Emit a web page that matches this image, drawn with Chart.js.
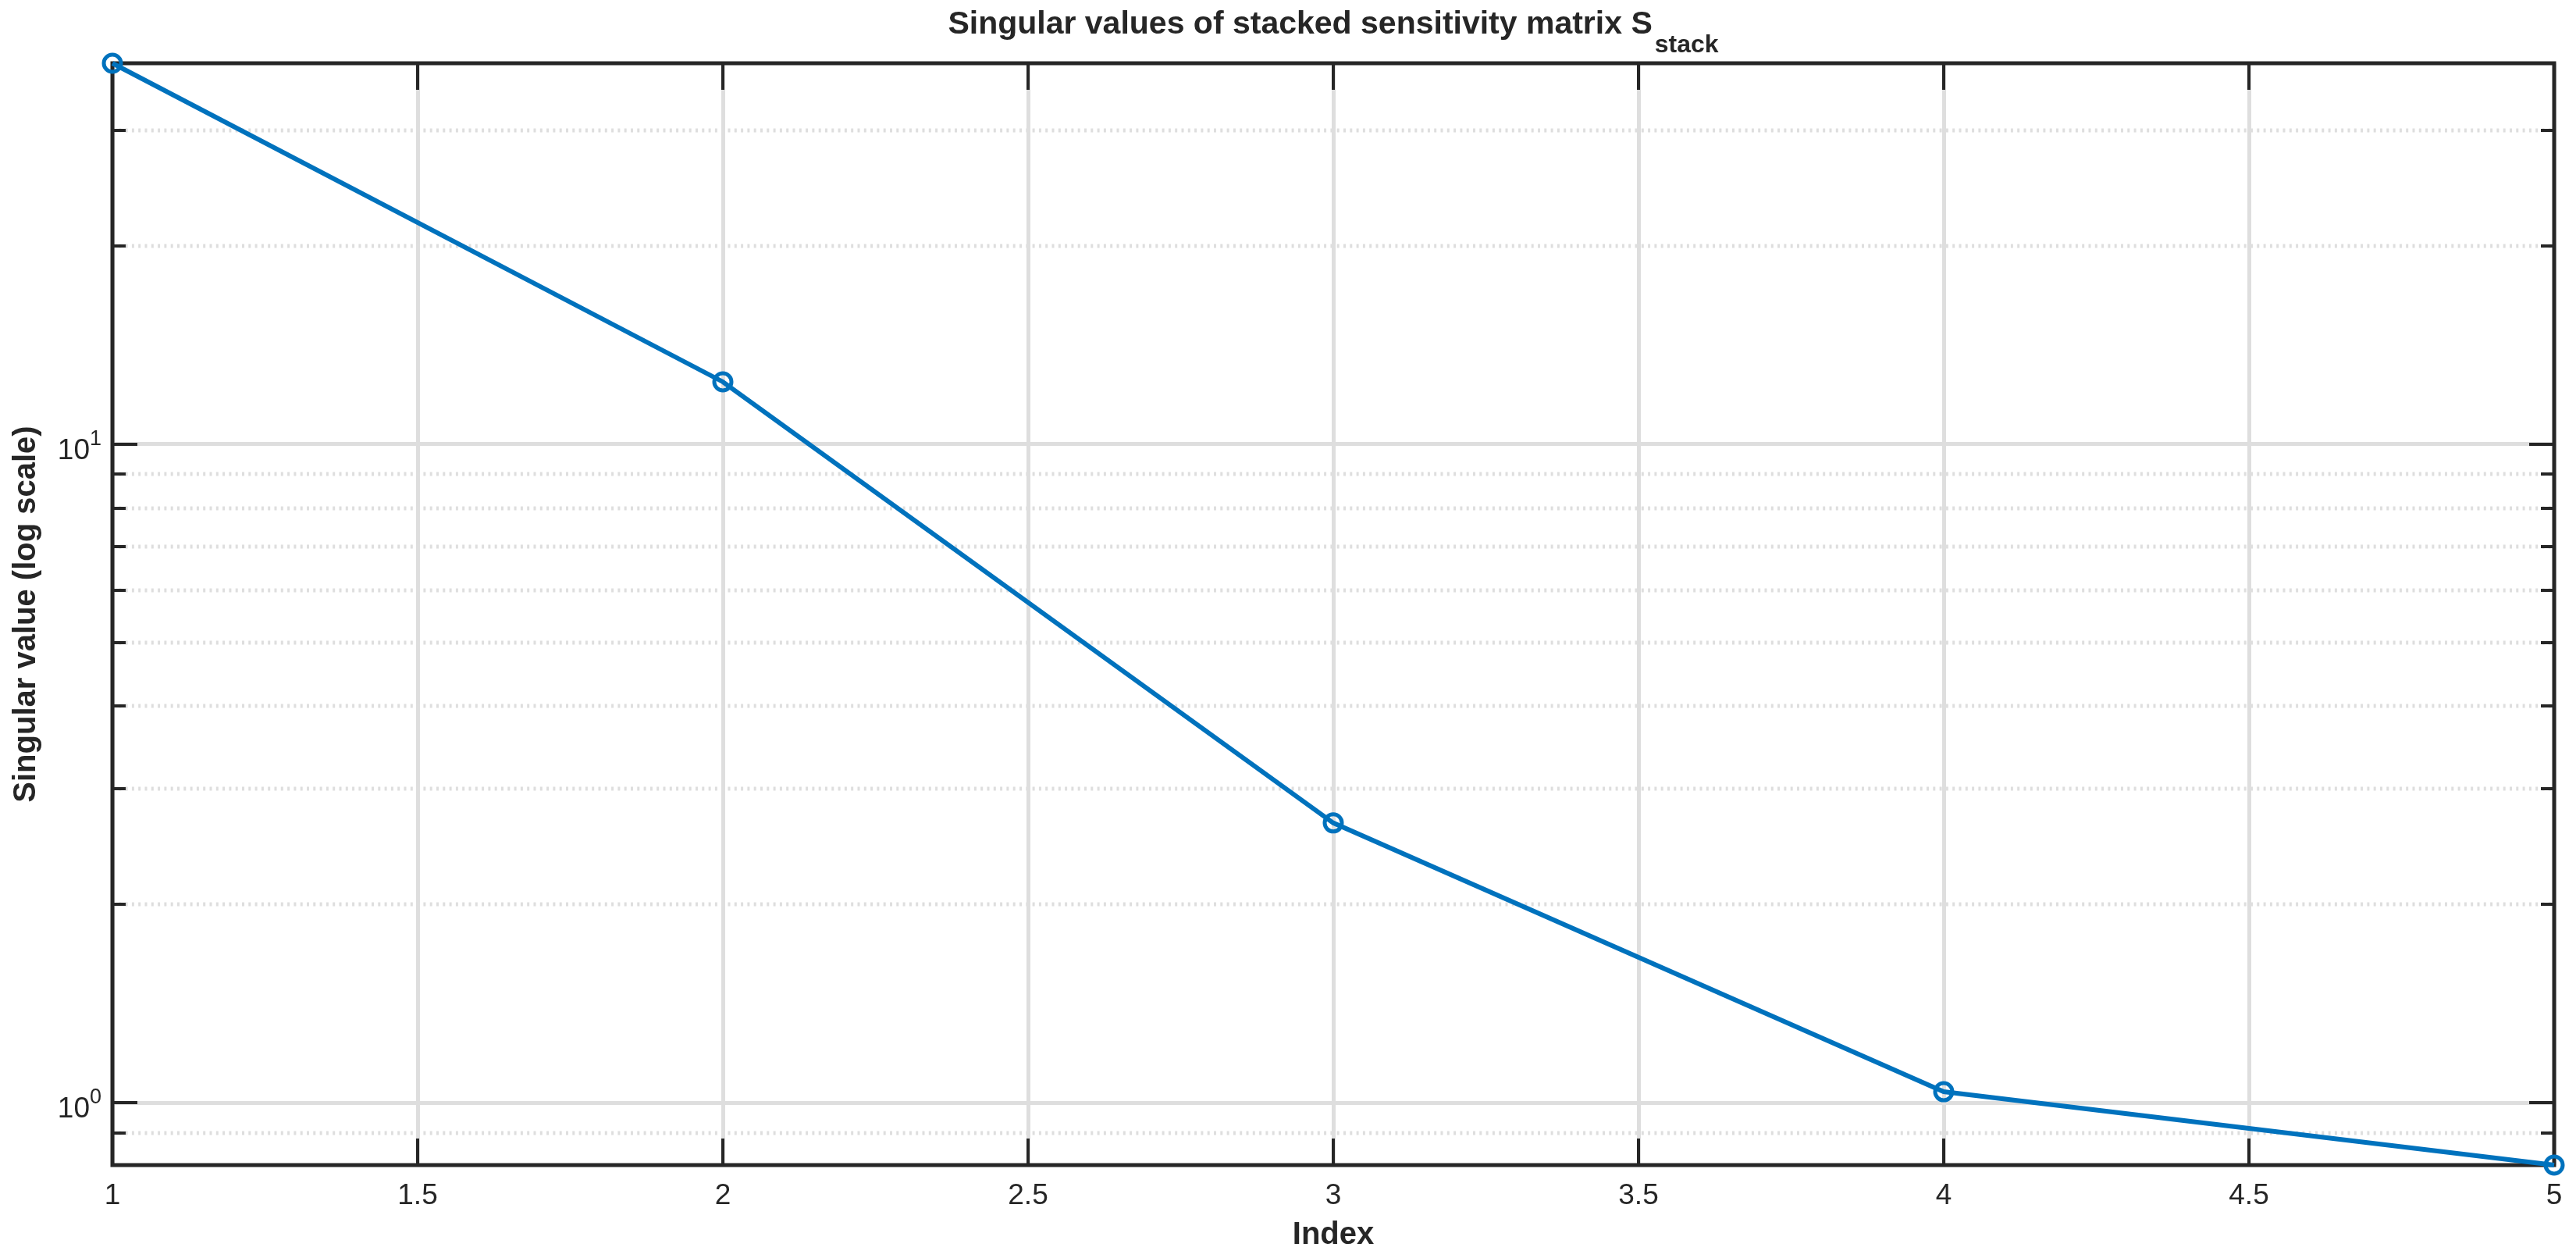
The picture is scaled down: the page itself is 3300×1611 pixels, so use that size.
<!DOCTYPE html>
<html>
<head>
<meta charset="utf-8">
<title>Singular values of stacked sensitivity matrix</title>
<script src="https://cdn.jsdelivr.net/npm/chart.js@4/dist/chart.umd.min.js"></script>
<style>
  html, body { margin: 0; padding: 0; background: #fff; }
  #chart-container { width: 3300px; height: 1611px; }
</style>
</head>
<body>
<div id="chart-container"><canvas id="sv-chart" width="3300" height="1611"></canvas></div>
<script>
// values
const indices = [1, 2, 3, 4, 5];
const singularValues = [37.9, 12.44, 2.66, 1.039, 0.804];

const xTicks = [1, 1.5, 2, 2.5, 3, 3.5, 4, 4.5, 5];
const xTickLabels = ['1', '1.5', '2', '2.5', '3', '3.5', '4', '4.5', '5'];
const yMajorTicks = [1, 10];
const yMajorExponents = ['0', '1'];
const yMinorTicks = [0.9, 2, 3, 4, 5, 6, 7, 8, 9, 20, 30];

const titleText = 'Singular values of stacked sensitivity matrix S';
const titleSub = 'stack';
const xLabel = 'Index';
const yLabel = 'Singular value (log scale)';

const FONT = '"Liberation Sans", Arial, Helvetica, sans-serif';
const AXIS_COLOR = '#262626';
const GRID_COLOR = '#dedede';
const MINOR_GRID_COLOR = '#dedede';

// draws the matlab style box, inward ticks, dotted minor grid and all text
const matlabAxes = {
  id: 'matlabAxes',
  beforeDatasetsDraw(chart) {
    const ctx = chart.ctx;
    const a = chart.chartArea;
    const xs = chart.scales.x;
    const ys = chart.scales.y;
    ctx.save();

    // dotted minor grid
    ctx.strokeStyle = MINOR_GRID_COLOR;
    ctx.lineWidth = 5;
    ctx.setLineDash([3, 5.3]);
    yMinorTicks.forEach(v => {
      const y = Math.round(ys.getPixelForValue(v));
      ctx.beginPath();
      ctx.moveTo(a.left, y);
      ctx.lineTo(a.right, y);
      ctx.stroke();
    });
    ctx.setLineDash([]);

    // ticks pointing inward, on all four sides
    ctx.strokeStyle = AXIS_COLOR;
    ctx.lineWidth = 4;
    ctx.beginPath();
    xTicks.forEach(v => {
      const x = Math.round(xs.getPixelForValue(v));
      ctx.moveTo(x, a.bottom); ctx.lineTo(x, a.bottom - 34);
      ctx.moveTo(x, a.top); ctx.lineTo(x, a.top + 34);
    });
    yMajorTicks.forEach(v => {
      const y = Math.round(ys.getPixelForValue(v));
      ctx.moveTo(a.left, y); ctx.lineTo(a.left + 32, y);
      ctx.moveTo(a.right, y); ctx.lineTo(a.right - 32, y);
    });
    yMinorTicks.forEach(v => {
      const y = Math.round(ys.getPixelForValue(v));
      ctx.moveTo(a.left, y); ctx.lineTo(a.left + 17, y);
      ctx.moveTo(a.right, y); ctx.lineTo(a.right - 17, y);
    });
    ctx.stroke();

    // box
    ctx.lineWidth = 5;
    ctx.strokeRect(a.left, a.top, a.right - a.left, a.bottom - a.top);
    ctx.restore();
  },
  afterDraw(chart) {
    const ctx = chart.ctx;
    const a = chart.chartArea;
    const xs = chart.scales.x;
    const ys = chart.scales.y;
    const cx = (a.left + a.right) / 2;
    const cy = (a.top + a.bottom) / 2;
    ctx.save();
    ctx.fillStyle = AXIS_COLOR;
    ctx.textBaseline = 'alphabetic';

    // x tick labels
    ctx.font = '37px ' + FONT;
    ctx.textAlign = 'center';
    xTicks.forEach((v, i) => {
      ctx.fillText(xTickLabels[i], xs.getPixelForValue(v), a.bottom + 50);
    });

    // y tick labels 10^n
    ctx.textAlign = 'right';
    yMajorTicks.forEach((v, i) => {
      const y = ys.getPixelForValue(v);
      const right = a.left - 14;
      ctx.font = '27px ' + FONT;
      const supW = ctx.measureText(yMajorExponents[i]).width;
      ctx.fillText(yMajorExponents[i], right, y + 1);
      ctx.font = '37px ' + FONT;
      ctx.fillText('10', right - supW, y + 19);
    });

    // axis labels
    ctx.font = 'bold 40px ' + FONT;
    ctx.textAlign = 'center';
    ctx.fillText(xLabel, cx, a.bottom + 101);
    ctx.save();
    ctx.translate(45, cy);
    ctx.rotate(-Math.PI / 2);
    ctx.fillText(yLabel, 0, 0);
    ctx.restore();

    // title with subscript
    ctx.font = 'bold 41px ' + FONT;
    const mainW = ctx.measureText(titleText).width;
    ctx.font = 'bold 32px ' + FONT;
    const subW = ctx.measureText(titleSub).width;
    const gap = 3;
    const start = cx - (mainW + gap + subW) / 2;
    ctx.textAlign = 'left';
    ctx.font = 'bold 41px ' + FONT;
    ctx.fillText(titleText, start, a.top - 38);
    ctx.font = 'bold 32px ' + FONT;
    ctx.fillText(titleSub, start + mainW + gap, a.top - 14);
    ctx.restore();
  }
};

new Chart(document.getElementById('sv-chart'), {
  type: 'line',
  data: {
    datasets: [{
      label: 'Singular values',
      data: indices.map((x, i) => ({ x: x, y: singularValues[i] })),
      borderColor: '#0072BD',
      borderWidth: 6,
      pointStyle: 'circle',
      pointRadius: 11,
      pointBorderWidth: 5,
      pointBorderColor: '#0072BD',
      pointBackgroundColor: 'rgba(0,0,0,0)',
      tension: 0,
      fill: false,
      clip: false
    }]
  },
  plugins: [matlabAxes],
  options: {
    responsive: false,
    devicePixelRatio: 1,
    animation: false,
    layout: { padding: { left: 144, top: 81, right: 28, bottom: 119 } },
    plugins: {
      legend: { display: false },
      title: { display: false },
      tooltip: { enabled: false }
    },
    scales: {
      x: {
        type: 'linear',
        min: 1,
        max: 5,
        afterBuildTicks: s => { s.ticks = xTicks.map(v => ({ value: v })); },
        afterFit: s => { s.height = 0; },
        ticks: { display: false },
        border: { display: false },
        grid: { color: GRID_COLOR, lineWidth: 5, drawTicks: false }
      },
      y: {
        type: 'logarithmic',
        min: Math.min(...singularValues),
        max: Math.max(...singularValues),
        afterBuildTicks: s => { s.ticks = yMajorTicks.map(v => ({ value: v, major: true })); },
        afterFit: s => { s.width = 0; },
        ticks: { display: false },
        border: { display: false },
        grid: { color: GRID_COLOR, lineWidth: 5, drawTicks: false }
      }
    }
  }
});
</script>
</body>
</html>
